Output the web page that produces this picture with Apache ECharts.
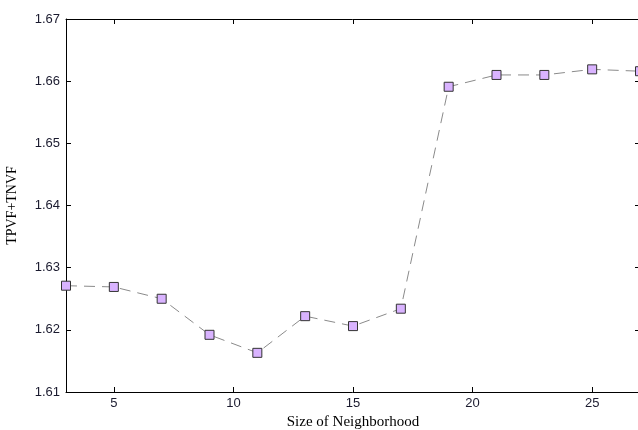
<!DOCTYPE html>
<html>
<head>
<meta charset="utf-8">
<script src="https://cdn.jsdelivr.net/npm/echarts@6/dist/echarts.min.js"></script>
<style>html,body{margin:0;padding:0;background:#fff;}#c{width:638px;height:430px;}</style>
</head>
<body>
<div id="c"></div>
<script>
const xValues = [3, 5, 7, 9, 11, 13, 15, 17, 19, 21, 23, 25, 27];
const yValues = [1.6271, 1.6269, 1.6250, 1.6192, 1.6163, 1.6222, 1.6206, 1.6234, 1.6591, 1.6610, 1.6610, 1.6619, 1.6616];
const yTicks = [1.61, 1.62, 1.63, 1.64, 1.65, 1.66, 1.67];
const xTicks = [5, 10, 15, 20, 25];
const xName = 'Size of Neighborhood';
const yName = 'TPVF+TNVF';

const chart = echarts.init(document.getElementById('c'));
const axisLine = {show: true, lineStyle: {color: '#000', width: 1}};
const tickInside = {show: true, inside: true, length: 5, lineStyle: {color: '#000'}};
const labelStyle = {fontFamily: 'Liberation Sans, Arial', fontSize: 13, color: '#1a1a2e'};
chart.setOption({
  animation: false,
  grid: {left: 66, right: -2, top: 19, bottom: 38, containLabel: false, outerBoundsMode: 'none'},
  xAxis: [{
    type: 'value', min: 3, max: 27, position: 'bottom',
    axisLine: axisLine, axisTick: Object.assign({customValues: xTicks}, tickInside),
    axisLabel: Object.assign({customValues: xTicks, margin: 5}, labelStyle),
    splitLine: {show: false},
    name: xName, nameLocation: 'middle', nameGap: 23,
    nameTextStyle: {fontFamily: 'Liberation Serif, Times New Roman', fontSize: 15, color: '#000'}
  }, {
    type: 'value', min: 3, max: 27, position: 'top',
    axisLine: axisLine, axisTick: Object.assign({customValues: xTicks}, tickInside),
    axisLabel: {show: false}, splitLine: {show: false}
  }],
  yAxis: [{
    type: 'value', min: 1.61, max: 1.67, interval: 0.01, position: 'left',
    axisLine: axisLine, axisTick: tickInside,
    axisLabel: Object.assign({customValues: yTicks, margin: 6, formatter: v => v.toFixed(2)}, labelStyle),
    splitLine: {show: false},
    name: yName, nameLocation: 'middle', nameGap: 47, nameRotate: 90,
    nameTextStyle: {fontFamily: 'Liberation Serif, Times New Roman', fontSize: 14, color: '#000'}
  }, {
    type: 'value', min: 1.61, max: 1.67, interval: 0.01, position: 'right',
    axisLine: axisLine, axisTick: tickInside,
    axisLabel: {show: false}, splitLine: {show: false}
  }],
  series: [{
    type: 'line',
    data: xValues.map((x, i) => [x, yValues[i]]),
    symbol: 'rect', symbolSize: 9,
    lineStyle: {color: '#8a8a8a', width: 1, type: [11, 7]},
    itemStyle: {color: '#d9b3ff', borderColor: '#333', borderWidth: 1},
    clip: false
  }]
});
</script>
</body>
</html>
